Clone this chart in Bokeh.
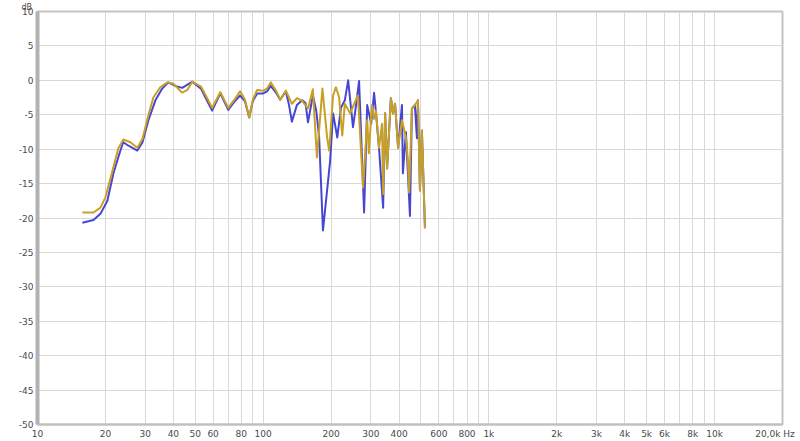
from bokeh.plotting import figure
from bokeh.models import Range1d, FixedTicker, Title
from bokeh.embed import file_html
from bokeh.resources import INLINE

# ---------------- data ----------------
freq_blue = [15.8, 17.7, 19.0, 20.4, 21.7, 23.3, 24.0, 25.3, 27.7, 29.2, 31.0, 33.3, 35.7, 38.0,
             40.8, 43.8, 48.5, 53.0, 56.5, 59.4, 64.6, 70.0, 75.0, 79.0, 83.0, 86.7, 90.0, 94.0,
             100, 104, 108, 114, 119, 126, 130, 134, 141, 149, 154, 158, 166, 172, 177, 184,
             198, 204, 213, 221, 230, 238, 250, 256, 266, 280, 289, 301, 310, 316, 326, 340,
             347, 354, 368, 376, 384, 396, 412, 416, 429, 447, 456, 470, 480, 485, 495, 505, 521]
db_blue = [-20.7, -20.3, -19.4, -17.5, -13.5, -10.2, -9.0, -9.5, -10.2, -9.0, -5.8, -2.9, -1.2, -0.3,
           -0.8, -1.1, -0.2, -1.2, -3.0, -4.4, -1.9, -4.3, -3.0, -2.2, -3.0, -5.4, -3.0, -1.9,
           -1.9, -1.6, -0.8, -1.8, -2.8, -1.6, -3.5, -6.0, -3.6, -2.9, -3.3, -6.1, -2.2, -4.5, -8.3, -21.8,
           -11.7, -4.8, -8.3, -4.0, -2.9, 0.0, -6.8, -4.4, -0.1, -19.2, -3.6, -6.3, -1.8, -4.7, -9.8, -18.5,
           -4.8, -12.8, -2.6, -4.8, -3.4, -9.8, -3.6, -13.5, -7.5, -19.7, -4.1, -3.6, -8.4, -2.9, -16.0, -7.3, -21.5]

freq_gold = [15.8, 17.7, 19.0, 20.0, 21.5, 22.8, 24.0, 25.8, 27.7, 29.2, 30.7, 32.6, 35.0, 37.6,
             40.0, 43.8, 46.1, 48.5, 53.0, 56.5, 59.4, 64.6, 70.0, 75.0, 79.0, 83.0, 86.7, 90.0, 94.0,
             100, 104, 108, 114, 119, 126, 134, 141, 149, 158, 166, 173, 183, 192, 196, 204, 210,
             217, 224, 230, 243, 253, 263, 277, 289, 294, 303, 310, 316, 326, 336, 340, 347, 354,
             368, 376, 384, 396, 412, 429, 438, 443, 456, 470, 485, 495, 505, 521]
db_gold = [-19.2, -19.2, -18.5, -17.0, -13.1, -9.9, -8.6, -9.0, -9.8, -8.5, -5.6, -2.5, -1.0, -0.3,
           -0.5, -1.8, -1.4, -0.2, -0.9, -2.6, -4.0, -1.7, -4.0, -2.7, -1.6, -2.8, -5.4, -2.8, -1.4,
           -1.5, -1.2, -0.3, -1.5, -2.8, -1.5, -3.4, -2.6, -3.0, -4.1, -1.3, -11.2, -1.2, -8.3, -10.2, -2.2, -1.0,
           -2.5, -8.0, -3.4, -4.8, -3.4, -2.2, -15.6, -5.8, -10.6, -3.6, -5.6, -4.4, -9.8, -6.3, -16.5, -4.8, -12.8,
           -2.6, -4.8, -3.4, -9.8, -5.8, -8.3, -11.7, -16.3, -4.1, -3.6, -2.9, -16.0, -7.3, -21.5]

x_ticks = [10, 20, 30, 40, 50, 60, 70, 80, 90, 100, 200, 300, 400, 500, 600, 700, 800, 900,
           1000, 2000, 3000, 4000, 5000, 6000, 7000, 8000, 9000, 10000, 20000]
x_labels = ["10", "20", "30", "40", "50", "60", "", "80", "", "100", "200", "300", "400", "", "600",
            "", "800", "", "1k", "2k", "3k", "4k", "5k", "6k", "", "8k", "", "10k", "20,0k Hz"]
y_ticks = [10, 5, 0, -5, -10, -15, -20, -25, -30, -35, -40, -45, -50]
y_labels = ["10", "5", "0", "-5", "-10", "-15", "-20", "-25", "-30", "-35", "-40", "-45", "-50"]
y_unit = "dB"

FONT = "DejaVu Sans"
LABEL_COLOR = "#4a4a4a"
NBSP = "\u00a0"

p = figure(width=800, height=441, x_axis_type="log",
           x_range=Range1d(10, 20000), y_range=Range1d(-50, 10),
           output_backend="svg", toolbar_location=None,
           min_border_left=37, min_border_right=18, min_border_top=11, min_border_bottom=17)

p.title = Title(text=y_unit, align="left", offset=-16, text_font=FONT, text_font_size="8px",
                text_font_style="normal", text_color=LABEL_COLOR, standoff=0,
                vertical_align="bottom")

p.background_fill_color = "white"
p.border_fill_color = "white"
p.outline_line_color = "#c4c4c4"
p.outline_line_width = 2

# the last x label is shifted left (as in the reference) with trailing no-break spaces
x_overrides = {t: l for t, l in zip(x_ticks, x_labels)}
x_overrides[x_ticks[-1]] = x_labels[-1] + NBSP * 2

p.xaxis.ticker = FixedTicker(ticks=x_ticks)
p.yaxis.ticker = FixedTicker(ticks=y_ticks)
p.xaxis.major_label_overrides = x_overrides
p.yaxis.major_label_overrides = {t: l for t, l in zip(y_ticks, y_labels)}

for ax in (p.xaxis, p.yaxis):
    ax.major_tick_line_color = None
    ax.minor_tick_line_color = None
    ax.major_tick_out = 0
    ax.major_tick_in = 0
    ax.major_label_text_font = FONT
    ax.major_label_text_font_size = "9px"
    ax.major_label_text_color = LABEL_COLOR
    ax.major_label_standoff = 4

p.yaxis.axis_line_color = "#b2b2b2"
p.yaxis.axis_line_width = 4
p.xaxis.axis_line_color = "#c0c0c0"
p.xaxis.axis_line_width = 2

p.xgrid.grid_line_color = "#d8d8d8"
p.ygrid.grid_line_color = "#d8d8d8"
p.xgrid.grid_line_width = 1
p.ygrid.grid_line_width = 1

p.line(freq_blue, db_blue, line_color="#4646d2", line_width=2, line_join="round")
p.line(freq_gold, db_gold, line_color="#c8a025", line_width=2, line_join="round")

open("out.html", "w").write(file_html(p, INLINE))
